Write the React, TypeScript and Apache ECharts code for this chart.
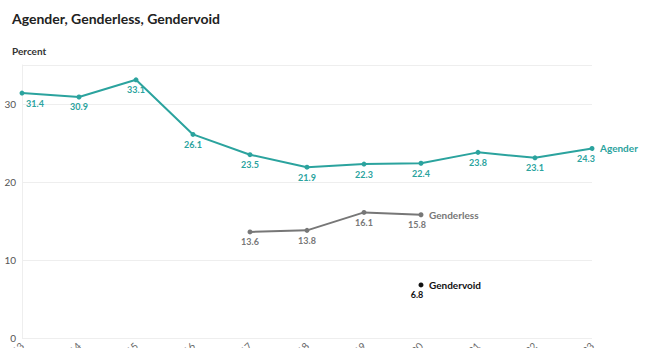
import React, { useEffect, useRef } from "react";
import * as echarts from "echarts";

const years = ["2013", "2014", "2015", "2016", "2017", "2018", "2019", "2020", "2021", "2022", "2023"];
const agender = [31.4, 30.9, 33.1, 26.1, 23.5, 21.9, 22.3, 22.4, 23.8, 23.1, 24.3];
const genderless = [null, null, null, null, 13.6, 13.8, 16.1, 15.8];
const gendervoid = [null, null, null, null, null, null, null, 6.8];
const yTicks = [0, 10, 20, 30];

const FONT = "Lato, 'Noto Sans', sans-serif";

function mkSeries(name: string, values: (number | null)[], color: string, lw: number) {
  const data = values.map((v, i) => {
    if (i === 0 && v != null) return { value: v, label: { offset: [13, 0] } };
    if (i === 10 && v != null) return { value: v, label: { offset: [-6, 0] } };
    if (i === values.length - 1 && v != null) return { value: v, label: { offset: [-4, 0] } };
    return v;
  });
  return {
    name,
    type: "line",
    data,
    connectNulls: false,
    symbol: "circle",
    symbolSize: 5,
    showSymbol: true,
    lineStyle: { color, width: lw },
    itemStyle: { color },
    label: {
      show: true,
      position: "bottom",
      distance: 3,
      color,
      fontSize: 9,
      fontWeight: "bold",
      fontFamily: FONT,
      formatter: (p: any) => (p.value == null ? "" : Number(p.value).toFixed(1)),
    },
    endLabel: {
      show: true,
      formatter: "{a}",
      color,
      fontSize: 10,
      fontWeight: "bold",
      fontFamily: FONT,
      distance: 8,
    },
    emphasis: { disabled: true },
  };
}

export default function App() {
  const ref = useRef<HTMLDivElement>(null);
  useEffect(() => {
    document.body.style.margin = "0";
    const chart = echarts.init(ref.current!, null, { renderer: "svg" });
    chart.setOption({
      animation: false,
      backgroundColor: "#ffffff",
      title: [
        {
          text: "Agender, Genderless, Gendervoid",
          left: 7,
          top: 6,
          textStyle: { fontFamily: FONT, fontSize: 14, fontWeight: "bold", color: "#222" },
        },
        {
          text: "Percent",
          left: 7,
          top: 41,
          textStyle: { fontFamily: FONT, fontSize: 10, fontWeight: "bold", color: "#333" },
        },
      ],
      grid: { left: 22, right: 70, top: 65, bottom: 10, containLabel: false, outerBoundsMode: "none" },
      xAxis: {
        type: "category",
        data: years,
        boundaryGap: false,
        axisLine: { show: false },
        axisTick: { show: false },
        axisLabel: { rotate: 45, fontSize: 10, color: "#666", margin: 6, fontFamily: FONT },
        splitLine: { show: false },
      },
      yAxis: {
        type: "value",
        min: 0,
        max: 35,
        interval: 10,
        axisLine: { show: true, lineStyle: { color: "#eeeeee" } },
        axisTick: { show: false },
        axisLabel: {
          fontSize: 10,
          color: "#555",
          margin: 6,
          fontFamily: FONT,
          formatter: (v: number) => (yTicks.includes(v) ? String(v) : ""),
        },
        splitLine: { show: true, lineStyle: { color: "#eeeeee" } },
      },
      series: [
        mkSeries("Agender", agender, "#2ba39e", 2),
        mkSeries("Genderless", genderless, "#777777", 2),
        mkSeries("Gendervoid", gendervoid, "#111111", 2),
      ],
    });
    return () => chart.dispose();
  }, []);
  return <div ref={ref} style={{ width: 662, height: 348 }} />;
}
